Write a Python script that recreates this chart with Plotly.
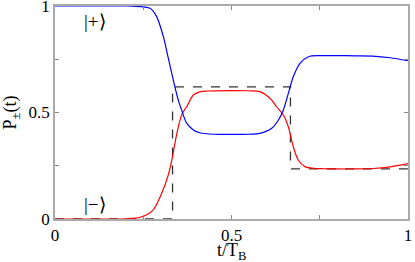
import plotly.graph_objects as go

# P_- (red)
t_minus = [0, 0.2, 0.241, 0.278, 0.302, 0.321, 0.331, 0.345, 0.359, 0.373, 0.392, 0.41, 0.43,
           0.5, 0.55, 0.58, 0.609, 0.628, 0.647, 0.661, 0.675, 0.689, 0.708, 0.732, 0.76,
           0.8, 0.85, 0.9, 0.95, 1.0]
p_minus = [0, 0.001, 0.008, 0.042, 0.12, 0.207, 0.277, 0.40, 0.49, 0.527, 0.582, 0.597, 0.601,
           0.603, 0.602, 0.598, 0.567, 0.527, 0.488, 0.433, 0.34, 0.277, 0.246, 0.238, 0.236,
           0.235, 0.235, 0.237, 0.245, 0.26]

# P_+ (blue)
t_plus = [0, 0.2, 0.221, 0.269, 0.288, 0.307, 0.321, 0.335, 0.349, 0.359, 0.373, 0.392, 0.41,
          0.45, 0.5, 0.55, 0.58, 0.614, 0.633, 0.647, 0.661, 0.675, 0.694, 0.718, 0.751,
          0.8, 0.85, 0.9, 0.95, 1.0]
p_plus = [1, 1, 0.999, 0.989, 0.95, 0.856, 0.755, 0.653, 0.559, 0.51, 0.45, 0.418, 0.405,
          0.398, 0.397, 0.398, 0.402, 0.426, 0.465, 0.512, 0.59, 0.668, 0.731, 0.762, 0.767,
          0.767, 0.766, 0.765, 0.757, 0.743]

# dashed step reference
t_step = [0, 0.333, 0.667, 1.0]
p_step = [0, 0.62, 0.235, 0.235]

tick_vals = [0, 0.25, 0.5, 0.75, 1]
tick_text = ["0", "", "0.5", "", "1"]

font_family = "Liberation Serif, Times New Roman, serif"

fig = go.Figure()
fig.add_trace(go.Scatter(x=t_step, y=p_step, mode="lines", line_shape="hv",
                         line=dict(color="#333333", width=1.3, dash="dash"), hoverinfo="skip"))
fig.add_trace(go.Scatter(x=t_minus, y=p_minus, mode="lines", line_shape="spline",
                         line=dict(color="#ff0000", width=1.2, smoothing=0.8)))
fig.add_trace(go.Scatter(x=t_plus, y=p_plus, mode="lines", line_shape="spline",
                         line=dict(color="#0000ff", width=1.2, smoothing=0.8)))

axis_common = dict(
    tickvals=tick_vals, ticktext=tick_text, ticks="inside", ticklen=4,
    tickcolor="#888888", showline=True, linecolor="#aaaaaa", linewidth=1.5,
    mirror="ticks", showgrid=False, zeroline=False, automargin=False,
    ticklabeloverflow="allow",
    tickfont=dict(family=font_family, size=17, color="black"),
)

fig.update_layout(
    template="none",
    width=415, height=262,
    margin=dict(l=55, r=7, t=6, b=43),
    paper_bgcolor="white", plot_bgcolor="white",
    showlegend=False,
    font=dict(family=font_family, color="black"),
    xaxis=dict(range=[0, 1], **axis_common),
    yaxis=dict(range=[0, 1], title=dict(text="P<sub>±</sub>(t)", standoff=8,
                                         font=dict(family=font_family, size=18)),
               **axis_common),
    annotations=[
        dict(x=0.113, y=0.925, xref="x", yref="y", text="|+⟩", showarrow=False,
             font=dict(family=font_family, size=19, color="black")),
        dict(x=0.113, y=0.068, xref="x", yref="y", text="|−⟩", showarrow=False,
             font=dict(family=font_family, size=19, color="black")),
        dict(x=0.5, y=-0.152, xref="paper", yref="paper", text="t/T<sub>B</sub>",
             showarrow=False, xanchor="center", yanchor="middle",
             font=dict(family=font_family, size=18, color="black")),
    ],
)

fig.write_html("out.html", config={"displayModeBar": False},
               post_script="document.body.style.margin='0';document.body.style.overflow='hidden';")
